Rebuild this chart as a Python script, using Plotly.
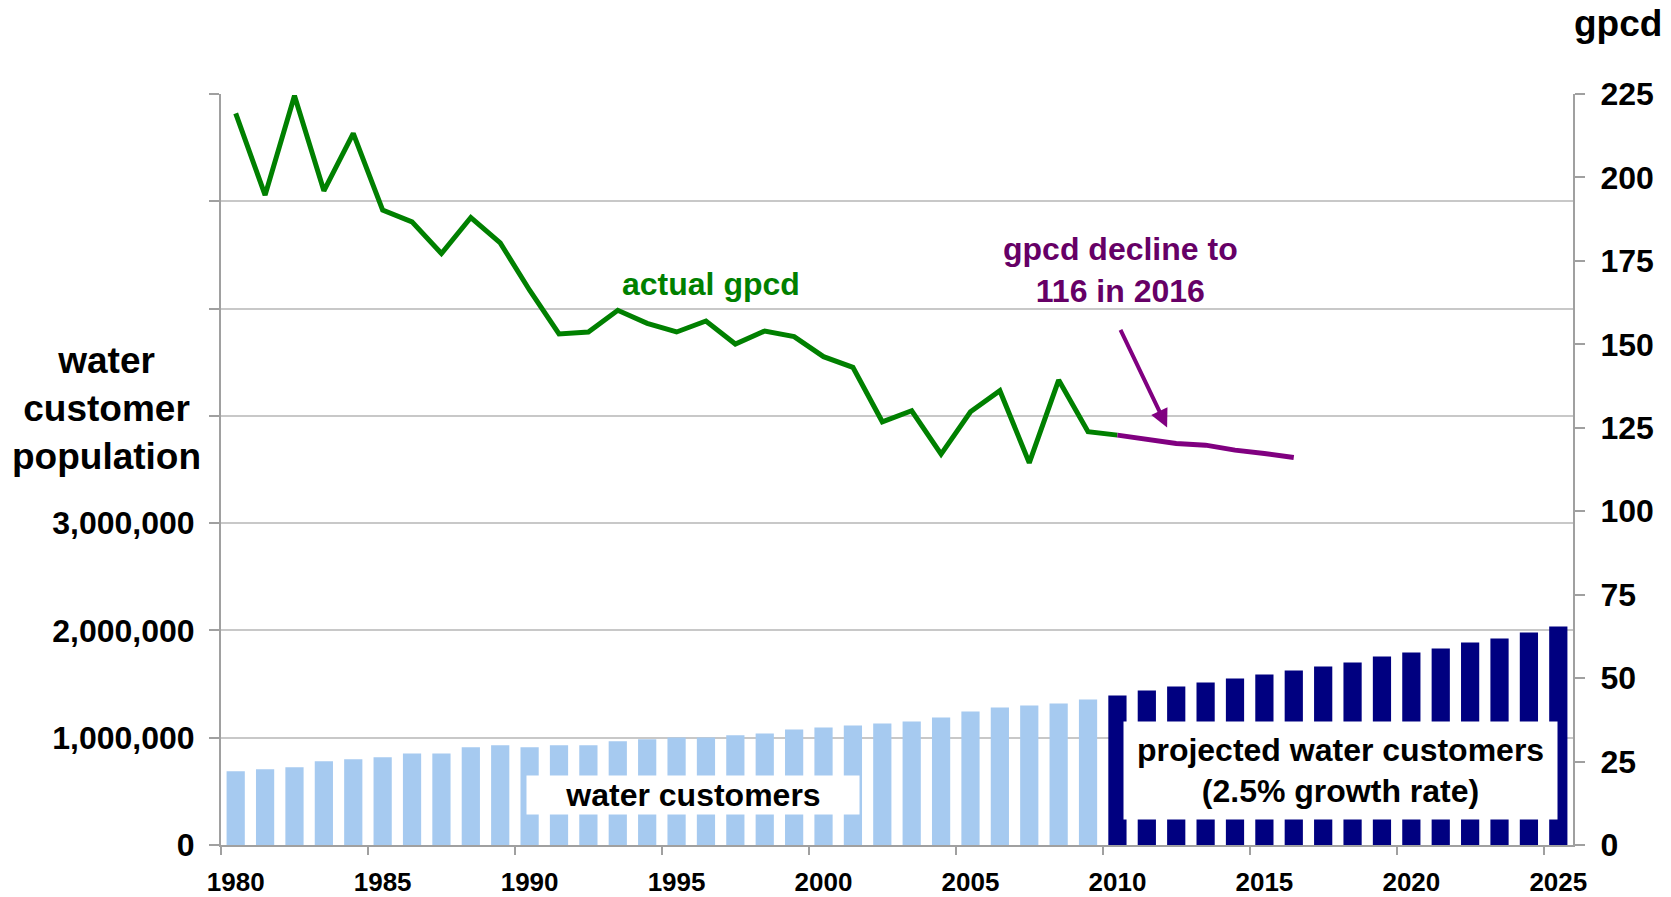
import plotly.graph_objects as go

# ---------------- data ----------------
actual_years = list(range(1980, 2010))
actual_customers = [687000, 706000, 724000, 780000, 799000, 817000, 854000, 854000, 910000, 929000,
                    910000, 929000, 929000, 966000, 985000, 1003000, 1003000, 1022000, 1040000, 1077000,
                    1096000, 1115000, 1133000, 1152000, 1189000, 1245000, 1282000, 1300000, 1319000, 1356000]
projected_years = list(range(2010, 2026))
projected_customers = [1393000, 1440000, 1477000, 1514000, 1551000, 1589000, 1626000, 1664000,
                       1701000, 1757000, 1794000, 1832000, 1888000, 1925000, 1981000, 2037000]

gpcd_years = list(range(1980, 2011))
gpcd_actual = [219.2, 194.7, 224.5, 196.0, 213.2, 190.2, 186.7, 177.2, 188.0, 180.4,
               166.2, 153.1, 153.7, 160.2, 156.3, 153.7, 157.0, 150.1, 154.0, 152.3,
               146.3, 143.1, 126.8, 130.1, 117.1, 129.8, 136.1, 114.5, 139.3, 123.8, 122.8]
proj_gpcd_years = list(range(2010, 2017))
gpcd_projected = [122.8, 121.5, 120.3, 119.8, 118.3, 117.3, 116.1]

x_label_years = list(range(1980, 2026, 5))
left_tickvals = [0, 1000000, 2000000, 3000000, 4000000, 5000000, 6000000, 7000000]
left_ticktext = ["0", "1,000,000", "2,000,000", "3,000,000", "", "", "", ""]
right_tickvals = list(range(0, 226, 25))

# ---------------- style ----------------
FONT = "Liberation Sans, Arial, sans-serif"
LIGHT_BLUE = "#A6CAF0"
NAVY = "#000080"
GREEN = "#008000"
PURPLE = "#800080"
PURPLE_TEXT = "#660066"
AXIS = "#A0A0A0"
GRID = "#C8C8C8"

fig = go.Figure()
fig.add_trace(go.Bar(x=actual_years, y=actual_customers, marker=dict(color=LIGHT_BLUE, line=dict(width=0)),
                     width=0.62, name="water customers", yaxis="y"))
fig.add_trace(go.Bar(x=projected_years, y=projected_customers, marker=dict(color=NAVY, line=dict(width=0)),
                     width=0.62, name="projected water customers", yaxis="y"))
fig.add_trace(go.Scatter(x=gpcd_years, y=gpcd_actual, mode="lines", line=dict(color=GREEN, width=5),
                         name="actual gpcd", yaxis="y2"))
fig.add_trace(go.Scatter(x=proj_gpcd_years, y=gpcd_projected, mode="lines", line=dict(color=PURPLE, width=5),
                         name="gpcd decline", yaxis="y2"))

boundary_ticks = [y - 0.5 for y in x_label_years]

fig.update_layout(
    width=1671, height=897,
    margin=dict(l=221, r=98, t=94, b=52, autoexpand=False),
    paper_bgcolor="white", plot_bgcolor="white",
    showlegend=False, barmode="overlay",
    font=dict(family=FONT, color="black"),
    xaxis=dict(
        range=[1979.5, 2025.5], tickmode="array", tickvals=x_label_years,
        ticks="", ticklabelstandoff=13,
        tickfont=dict(family=FONT, size=26, color="black", weight="bold"),
        showline=True, linecolor=AXIS, linewidth=2, showgrid=False, zeroline=False,
        minor=dict(tickmode="array", tickvals=boundary_ticks, ticks="outside", ticklen=8,
                   tickcolor=AXIS, tickwidth=2, showgrid=False),
    ),
    yaxis=dict(
        range=[0, 7000000], tickmode="array", tickvals=left_tickvals, ticktext=left_ticktext,
        ticks="outside", ticklen=10, tickcolor=AXIS, tickwidth=2, ticklabelstandoff=8,
        tickfont=dict(family=FONT, size=32, color="black", weight="bold"),
        showline=True, linecolor=AXIS, linewidth=2,
        showgrid=True, gridcolor=GRID, gridwidth=2, zeroline=False,
    ),
    yaxis2=dict(
        range=[0, 225], overlaying="y", side="right", tickmode="array", tickvals=right_tickvals,
        ticks="outside", ticklen=10, tickcolor=AXIS, tickwidth=2, ticklabelstandoff=9,
        tickfont=dict(family=FONT, size=32, color="black", weight="bold"),
        showline=True, linecolor=AXIS, linewidth=2, showgrid=False, zeroline=False,
    ),
)

annotations = [
    dict(text="water<br>customer<br>population", xref="paper", yref="paper", x=-0.0846, y=0.5806,
         xanchor="center", yanchor="middle", showarrow=False,
         font=dict(family=FONT, size=37, color="black", weight="bold"), align="center"),
    dict(text="gpcd", xref="paper", yref="paper", x=1.0333, y=1.0939, xanchor="center", yanchor="middle",
         showarrow=False, font=dict(family=FONT, size=37, color="black", weight="bold")),
    dict(text="actual gpcd", xref="x", yref="y2", x=1996.17, y=168.2, xanchor="center", yanchor="middle",
         showarrow=False, font=dict(family=FONT, size=32, color=GREEN, weight="bold")),
    dict(text="gpcd decline to<br>116 in 2016", xref="x", yref="y2", x=2010.09, y=172.2,
         xanchor="center", yanchor="middle", showarrow=False,
         font=dict(family=FONT, size=32, color=PURPLE_TEXT, weight="bold"), align="center"),
    dict(text="", xref="x", yref="y2", x=2011.69, y=125.1, axref="x", ayref="y2", ax=2010.08, ay=154.8,
         showarrow=True, arrowhead=2, arrowsize=0.9, arrowwidth=4, arrowcolor=PURPLE),
    dict(text="water customers", xref="x", yref="y", x=1995.55, y=466000, xanchor="center", yanchor="middle",
         showarrow=False, bgcolor="white", width=332, height=38, borderpad=0,
         font=dict(family=FONT, size=32, color="black", weight="bold")),
    dict(text="projected water customers<br>(2.5% growth rate)", xref="x", yref="y", x=2017.59, y=699000,
         xanchor="center", yanchor="middle",
         showarrow=False, bgcolor="white", width=433, height=97, borderpad=0, align="center",
         font=dict(family=FONT, size=32, color="black", weight="bold")),
]
fig.update_layout(annotations=annotations)

fig.write_html("out.html", config={"displayModeBar": False},
               post_script="document.body.style.margin='0px';document.body.style.overflow='hidden';")
